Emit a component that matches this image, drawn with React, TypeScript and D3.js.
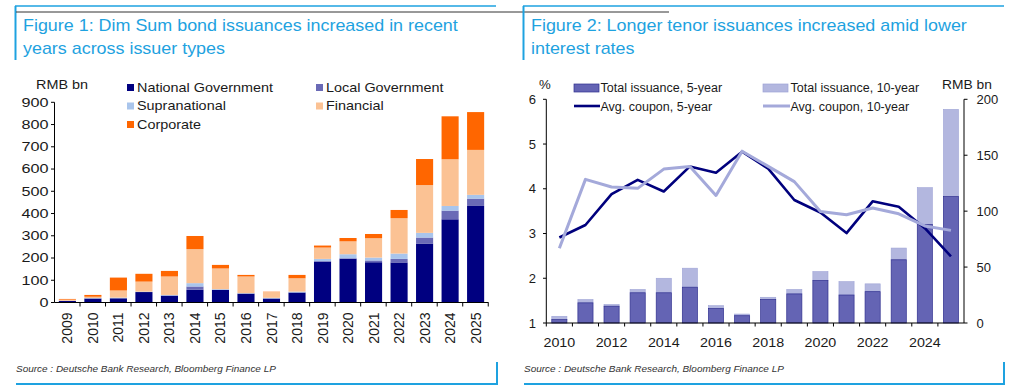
import * as d3 from 'd3';

// Figure 1: Dim Sum bond issuances by issuer type (RMB bn)
const years1 = ['2009', '2010', '2011', '2012', '2013', '2014', '2015', '2016', '2017',
  '2018', '2019', '2020', '2021', '2022', '2023', '2024', '2025'];
const national = [7, 18, 19, 47, 30, 57, 57, 40, 18, 45, 184, 197, 181, 180, 265, 374, 434];
const localGov = [0, 0, 0, 0, 2, 15, 0, 0, 0, 0, 2, 2, 8, 16, 27, 39, 33];
const supra = [1, 2, 3, 2, 2, 15, 3, 2, 3, 4, 10, 18, 13, 24, 21, 21, 17];
const financial = [5, 6, 32, 45, 83, 153, 93, 75, 27, 60, 51, 58, 87, 159, 215, 210, 202];
const corporate = [3, 8, 58, 35, 25, 59, 16, 7, 1, 15, 9, 15, 19, 37, 117, 193, 170];
const ticks1 = [0, 100, 200, 300, 400, 500, 600, 700, 800, 900];

// Figure 2: tenor issuance (RMB bn) and average coupon (%)
const years2 = ['2010', '2011', '2012', '2013', '2014', '2015', '2016', '2017', '2018',
  '2019', '2020', '2021', '2022', '2023', '2024', '2025'];
const issuance5 = [3, 18, 15, 27, 27, 32, 13, 6.5, 21, 26, 38, 25, 28, 56.5, 88, 113];
const issuance10 = [3, 3, 1.5, 3, 13, 17, 2.5, 1.5, 2, 4, 8, 12, 7, 10.5, 33, 78];
const coupon5 = [2.91, 3.19, 3.88, 4.2, 3.94, 4.5, 4.36, 4.83, 4.45, 3.75, 3.47, 3.01, 3.72, 3.6, 3.12, 2.49];
const coupon10 = [2.67, 4.21, 4.04, 4.01, 4.44, 4.5, 3.85, 4.84, 4.5, 4.16, 3.49, 3.42, 3.57, 3.44, 3.17, 3.07];
const ticksPct = [1, 2, 3, 4, 5, 6];
const ticksBn = [0, 50, 100, 150, 200];

const FONT = '"Liberation Sans", Arial, Helvetica, sans-serif';
const BLUE = '#1ea2e0';
const TXT = '#1a1a1a';

const issuerKeys = ['national', 'localGov', 'supra', 'financial', 'corporate'];
const issuerNames = ['National Government', 'Local Government', 'Supranational', 'Financial', 'Corporate'];
const issuerColors = ['#000080', '#6a6ab6', '#a9c5ec', '#fbc294', '#ff6600'];

const T = ({ x, y, sx = 1, size = 12, anchor = 'start', rot = 0, fill = TXT, italic = false, children }: any) => (
  <text
    transform={`translate(${x},${y}) scale(${sx},1)${rot ? ` rotate(${rot})` : ''}`}
    fontSize={size}
    fontFamily={FONT}
    fontStyle={italic ? 'italic' : 'normal'}
    textAnchor={anchor}
    fill={fill}
  >
    {children}
  </text>
);

const Figure1 = () => {
  const x = d3.scaleBand().domain(years1).range([54.5, 488.5]).paddingInner(0.33).paddingOuter(0.17);
  const y = d3.scaleLinear().domain([0, 900]).range([302.5, 102.3]);
  const table = years1.map((yr, i) => ({
    year: yr, national: national[i], localGov: localGov[i], supra: supra[i],
    financial: financial[i], corporate: corporate[i],
  }));
  const series = d3.stack<any>().keys(issuerKeys)(table);
  const step = x.step();
  const left = x.range()[0];

  const legendPos = [
    { x: 127, y: 87.5 }, { x: 316, y: 87.5 }, { x: 127, y: 106 }, { x: 316, y: 106 }, { x: 127, y: 124.5 },
  ];

  return (
    <g>
      {/* frame */}
      <line x1={15} x2={496} y1={6} y2={6} stroke={BLUE} strokeWidth={1.5} />
      <line x1={15.5} x2={15.5} y1={6} y2={60} stroke={BLUE} strokeWidth={2} />
      <T x={23} y={30.5} size={16} sx={1.12} fill={BLUE}>Figure 1: Dim Sum bond issuances increased in recent</T>
      <T x={23} y={53.5} size={16} sx={1.12} fill={BLUE}>years across issuer types</T>
      <line x1={16} x2={497} y1={384} y2={384} stroke={BLUE} strokeWidth={2} />
      <line x1={497} x2={497} y1={362} y2={385} stroke={BLUE} strokeWidth={2} />
      <T x={16} y={372} size={9.5} sx={1.05} italic fill="#333">Source : Deutsche Bank Research, Bloomberg Finance LP</T>

      {/* bars */}
      {series.map((s, si) => (
        <g key={s.key} fill={issuerColors[si]}>
          {s.map((d, i) => (
            <rect key={i} x={x(years1[i])} width={x.bandwidth()} y={y(d[1])} height={Math.max(0, y(d[0]) - y(d[1]))} />
          ))}
        </g>
      ))}

      {/* y axis */}
      <line x1={54.5} x2={54.5} y1={y(900)} y2={y(0)} stroke="#000" strokeWidth={1} />
      {ticks1.map(t => (
        <g key={t}>
          <line x1={51} x2={54.5} y1={y(t)} y2={y(t)} stroke="#000" />
          <T x={48.5} y={y(t) + 4.3} size={12} sx={1.35} anchor="end">{t}</T>
        </g>
      ))}
      <T x={36} y={89} size={12} sx={1.2}>RMB bn</T>

      {/* x axis */}
      <line x1={54.5} x2={488.5} y1={y(0)} y2={y(0)} stroke="#000" />
      {years1.map((yr, i) => (
        <line key={'t' + yr} x1={left + step * (i + 1)} x2={left + step * (i + 1)} y1={y(0)} y2={y(0) + 4} stroke="#000" />
      ))}
      {years1.map(yr => (
        <T key={yr} x={(x(yr) as number) + x.bandwidth() / 2 + 5} y={312.5} size={14} anchor="end" rot={-90}>{yr}</T>
      ))}

      {/* legend */}
      {issuerNames.map((n, i) => (
        <g key={n}>
          <rect x={legendPos[i].x} y={legendPos[i].y - 3.5} width={7} height={7} fill={issuerColors[i]} />
          <T x={legendPos[i].x + 10} y={legendPos[i].y + 4.3} size={12} sx={1.2}>{n}</T>
        </g>
      ))}
    </g>
  );
};

const Figure2 = () => {
  const x = d3.scaleBand().domain(years2).range([546.3, 964]).paddingInner(0.42).paddingOuter(0.21);
  const yPct = d3.scaleLinear().domain([1, 6]).range([323, 99.3]);
  const yBn = d3.scaleLinear().domain([0, 200]).range([323, 99.3]);
  const step = x.step();
  const left = x.range()[0];
  const cx = (yr: string) => (x(yr) as number) + x.bandwidth() / 2;
  const line5 = d3.line<number>().x((_, i) => cx(years2[i])).y(d => yPct(d));
  const line10 = d3.line<number>().x((_, i) => cx(years2[i])).y(d => yPct(d));

  return (
    <g>
      {/* frame */}
      <line x1={16} x2={669} y1={12} y2={12} stroke="#333" strokeWidth={1} />
      <line x1={523} x2={1004} y1={6} y2={6} stroke={BLUE} strokeWidth={1.5} />
      <line x1={523.5} x2={523.5} y1={6} y2={60} stroke={BLUE} strokeWidth={2} />
      <T x={531} y={30.5} size={16} sx={1.12} fill={BLUE}>Figure 2: Longer tenor issuances increased amid lower</T>
      <T x={531} y={53.5} size={16} sx={1.12} fill={BLUE}>interest rates</T>
      <line x1={524} x2={1004} y1={384} y2={384} stroke={BLUE} strokeWidth={2} />
      <line x1={1004} x2={1004} y1={362} y2={385} stroke={BLUE} strokeWidth={2} />
      <T x={524} y={372} size={9.5} sx={1.05} italic fill="#333">Source : Deutsche Bank Research, Bloomberg Finance LP</T>

      {/* bars: 5-year with 10-year stacked on top */}
      {years2.map((yr, i) => (
        <g key={yr}>
          <rect x={x(yr)} width={x.bandwidth()} y={yBn(issuance5[i] + issuance10[i])}
            height={yBn(issuance5[i]) - yBn(issuance5[i] + issuance10[i])} fill="#b3b7df" stroke="#9fa4d6" strokeWidth={0.6} />
          <rect x={x(yr)} width={x.bandwidth()} y={yBn(issuance5[i])}
            height={yBn(0) - yBn(issuance5[i])} fill="#6464b4" stroke="#2f2f8f" strokeWidth={0.7} />
        </g>
      ))}

      {/* lines */}
      <path d={line5(coupon5) as string} fill="none" stroke="#00007d" strokeWidth={2.6} strokeLinejoin="round" />
      <path d={line10(coupon10) as string} fill="none" stroke="#a4a9da" strokeWidth={3} strokeLinejoin="round" />

      {/* left axis */}
      <line x1={546.3} x2={546.3} y1={yPct(6)} y2={yPct(1)} stroke="#000" />
      {ticksPct.map(t => (
        <g key={t}>
          <line x1={543} x2={546.3} y1={yPct(t)} y2={yPct(t)} stroke="#000" />
          <T x={536} y={yPct(t) + 4.7} size={13}  anchor="end">{t}</T>
        </g>
      ))}
      <T x={539} y={89} size={12} sx={1.1}>%</T>

      {/* right axis */}
      <line x1={964} x2={964} y1={yBn(200)} y2={yBn(0)} stroke="#000" />
      {ticksBn.map(t => (
        <g key={t}>
          <line x1={964} x2={967.5} y1={yBn(t)} y2={yBn(t)} stroke="#000" />
          <T x={976.5} y={yBn(t) + 4.7} size={13}>{t}</T>
        </g>
      ))}
      <T x={942} y={89} size={12} sx={1.15}>RMB bn</T>

      {/* x axis */}
      <line x1={546.3} x2={964} y1={yPct(1)} y2={yPct(1)} stroke="#000" />
      {years2.map((yr, i) => (
        <line key={'t' + yr} x1={left + step * i} x2={left + step * i} y1={yPct(1)} y2={yPct(1) + 3.5} stroke="#000" />
      ))}
      {years2.filter((_, i) => i % 2 === 0).map(yr => (
        <T key={yr} x={cx(yr)} y={346.5} size={13} sx={1.1} anchor="middle">{yr}</T>
      ))}

      {/* legend */}
      <rect x={574} y={84} width={25} height={8} fill="#6464b4" stroke="#2f2f8f" strokeWidth={0.7} />
      <T x={600.5} y={92} size={12.5}>Total issuance, 5-year</T>
      <rect x={763} y={84} width={25} height={8} fill="#b3b7df" stroke="#9fa4d6" strokeWidth={0.7} />
      <T x={790.5} y={92} size={12.5}>Total issuance, 10-year</T>
      <line x1={574} x2={600} y1={106} y2={106} stroke="#00007d" strokeWidth={2.6} />
      <T x={600.5} y={110.5} size={12.5}>Avg. coupon, 5-year</T>
      <line x1={763} x2={790} y1={106} y2={106} stroke="#a4a9da" strokeWidth={3} />
      <T x={790.5} y={110.5} size={12.5}>Avg. coupon, 10-year</T>
    </g>
  );
};

export default function App() {
  return (
    <svg width={1024} height={392} style={{ position: 'absolute', left: 0, top: 0, background: '#fff' }}>
      <rect width={1024} height={392} fill="#fff" />
      <Figure1 />
      <Figure2 />
    </svg>
  );
}
